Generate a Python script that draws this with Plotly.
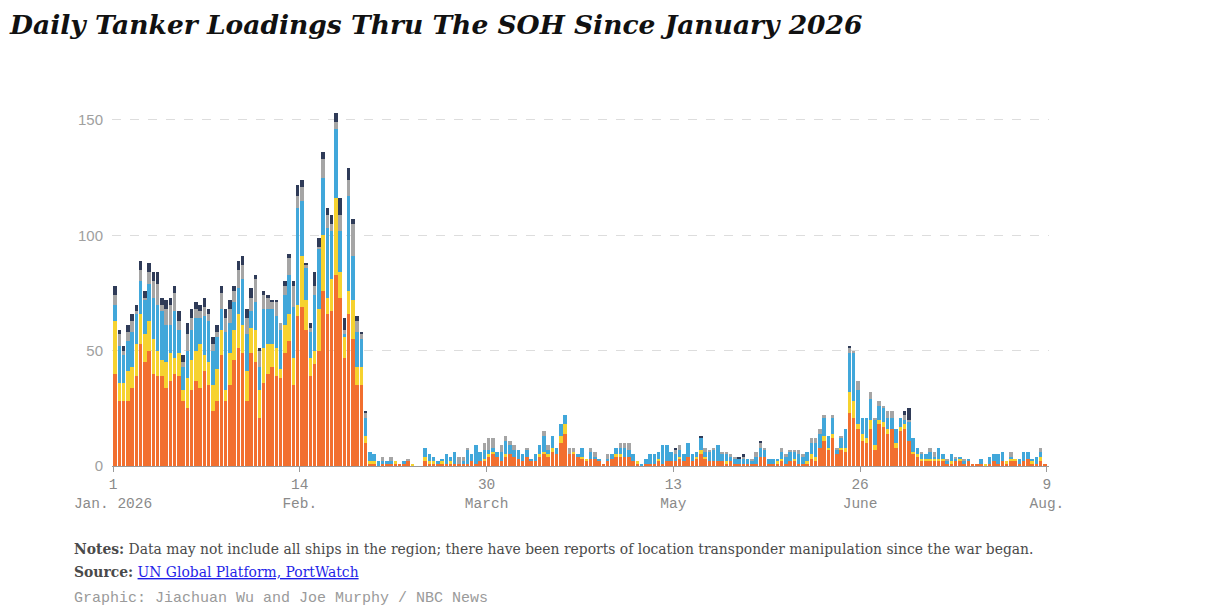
import pandas as pd
import plotly.graph_objects as go

# daily tanker loadings, 1 Jan 2026 .. 8 Aug 2026, stacked by category
days = pd.date_range("2026-01-01", periods=220, freq="D")

orange = [
    40, 28, 28, 28, 34, 39, 53, 45, 50, 40,
    39, 39, 34, 37, 40, 39, 28, 25, 33, 37,
    34, 41, 35, 24, 28, 48, 28, 35, 46, 51,
    49, 28, 49, 45, 21, 36, 40, 43, 39, 38,
    49, 54, 35, 65, 69, 59, 39, 44, 50, 76,
    66, 67, 83, 73, 47, 66, 55, 35, 35, 10,
    1, 1, 0, 1, 1, 1, 1, 1, 1, 2,
    0, 0, 0, 2, 1, 1, 1, 1, 1, 1,
    1, 1, 1, 1, 2, 1, 2, 2, 4, 5,
    4, 2, 4, 5, 4, 3, 2, 4, 2, 2,
    4, 5, 4, 6, 5, 10, 14, 5, 5, 4,
    3, 2, 3, 3, 2, 1, 2, 3, 4, 4,
    4, 4, 2, 1, 0, 1, 1, 1, 2, 1,
    2, 2, 2, 3, 2, 4, 2, 3, 5, 3,
    2, 2, 2, 2, 1, 2, 1, 1, 1, 1,
    1, 1, 4, 4, 1, 1, 1, 2, 1, 2,
    2, 1, 1, 1, 3, 2, 8, 11, 7, 12,
    5, 7, 6, 23, 21, 16, 11, 10, 16, 7,
    18, 17, 14, 16, 8, 15, 16, 11, 5, 4,
    2, 2, 2, 2, 2, 2, 1, 1, 2, 2,
    1, 2, 1, 1, 1, 0, 1, 2, 1, 2,
    1, 2, 2, 1, 2, 3, 1, 1, 2, 1,
]
yellow = [
    23, 8, 8, 13, 9, 14, 13, 12, 13, 15,
    11, 7, 11, 12, 7, 10, 5, 13, 13, 13,
    19, 7, 10, 11, 14, 11, 5, 14, 13, 15,
    12, 13, 11, 14, 12, 15, 13, 10, 12, 4,
    12, 12, 12, 5, 22, 13, 8, 6, 18, 24,
    7, 14, 33, 11, 9, 10, 17, 8, 8, 3,
    1, 1, 0, 0, 0, 0, 1, 0, 0, 0,
    1, 0, 0, 2, 1, 1, 0, 1, 0, 1,
    0, 0, 0, 0, 0, 0, 0, 1, 1, 1,
    0, 0, 1, 0, 0, 0, 0, 0, 0, 0,
    1, 1, 1, 2, 0, 3, 4, 0, 1, 0,
    1, 1, 0, 0, 0, 0, 0, 0, 1, 1,
    0, 0, 0, 1, 0, 0, 0, 0, 1, 0,
    0, 0, 0, 1, 0, 0, 0, 1, 2, 1,
    0, 0, 0, 0, 1, 0, 0, 0, 0, 0,
    0, 0, 0, 0, 0, 0, 1, 1, 0, 0,
    1, 0, 0, 1, 2, 2, 0, 2, 1, 2,
    0, 1, 2, 9, 7, 2, 3, 2, 4, 2,
    2, 2, 2, 0, 2, 2, 2, 0, 1, 1,
    1, 1, 1, 1, 1, 1, 0, 1, 0, 1,
    0, 0, 0, 0, 0, 1, 0, 0, 0, 0,
    1, 1, 1, 0, 0, 0, 1, 0, 2, 0,
]
blue = [
    7, 16, 12, 13, 15, 13, 14, 15, 16, 18,
    20, 21, 16, 12, 20, 10, 10, 12, 13, 14,
    11, 17, 18, 15, 14, 9, 25, 13, 12, 11,
    20, 16, 7, 12, 10, 17, 15, 15, 14, 17,
    13, 17, 22, 42, 24, 14, 11, 24, 26, 25,
    30, 21, 30, 18, 1, 41, 19, 15, 12, 8,
    4, 3, 2, 1, 1, 1, 0, 0, 1, 0,
    0, 0, 0, 4, 3, 2, 1, 1, 4, 2,
    5, 0, 1, 6, 3, 8, 4, 4, 2, 2,
    2, 4, 6, 4, 3, 4, 3, 3, 1, 3,
    4, 7, 2, 5, 3, 5, 4, 0, 0, 1,
    4, 0, 3, 1, 1, 0, 1, 2, 3, 3,
    4, 3, 3, 0, 1, 2, 4, 4, 3, 8,
    7, 4, 3, 3, 3, 6, 3, 2, 5, 2,
    4, 5, 7, 3, 3, 2, 2, 2, 2, 2,
    1, 3, 4, 3, 2, 2, 1, 3, 3, 4,
    3, 4, 3, 4, 5, 6, 6, 8, 5, 7,
    2, 4, 8, 17, 21, 15, 7, 9, 9, 11,
    6, 6, 5, 5, 6, 4, 2, 8, 6, 3,
    2, 2, 3, 1, 5, 2, 1, 3, 1, 1,
    1, 1, 0, 0, 2, 0, 3, 3, 4, 4,
    0, 1, 0, 2, 4, 3, 1, 3, 2, 0,
]
gray = [
    4, 5, 2, 4, 5, 1, 5, 1, 5, 7,
    9, 3, 7, 9, 8, 4, 2, 7, 5, 4,
    3, 4, 3, 3, 2, 7, 6, 6, 5, 8,
    6, 7, 6, 10, 7, 6, 5, 3, 6, 3,
    4, 7, 9, 5, 6, 1, 2, 4, 1, 8,
    6, 3, 3, 7, 2, 7, 14, 5, 2, 2,
    0, 0, 0, 2, 0, 2, 0, 0, 0, 1,
    0, 0, 0, 0, 0, 0, 0, 0, 0, 0,
    0, 3, 2, 1, 0, 0, 0, 3, 5, 4,
    0, 3, 2, 2, 2, 0, 0, 1, 0, 0,
    0, 2, 2, 0, 0, 0, 0, 3, 2, 0,
    0, 0, 2, 2, 0, 0, 2, 0, 0, 2,
    2, 3, 0, 0, 0, 0, 0, 0, 0, 0,
    0, 0, 2, 2, 0, 0, 0, 0, 0, 2,
    1, 1, 0, 1, 1, 1, 1, 0, 1, 0,
    1, 2, 2, 1, 0, 0, 0, 2, 1, 1,
    1, 2, 1, 0, 2, 2, 2, 1, 0, 1,
    1, 1, 0, 2, 1, 4, 0, 0, 3, 1,
    2, 1, 3, 3, 0, 0, 2, 1, 0, 0,
    1, 0, 2, 2, 0, 0, 1, 0, 1, 0,
    1, 0, 0, 0, 0, 0, 0, 0, 0, 0,
    0, 2, 0, 0, 0, 0, 0, 0, 2, 0,
]
navy = [
    4, 2, 2, 3, 3, 3, 4, 3, 4, 4,
    5, 3, 4, 3, 3, 4, 3, 5, 4, 3,
    3, 4, 2, 3, 3, 3, 4, 4, 2, 4,
    4, 4, 4, 2, 1, 2, 1, 1, 1, 0,
    2, 2, 2, 5, 3, 1, 2, 6, 4, 3,
    3, 4, 4, 7, 5, 5, 2, 2, 1, 1,
    0, 0, 0, 0, 0, 0, 0, 0, 0, 0,
    0, 0, 0, 0, 0, 0, 0, 0, 0, 0,
    0, 0, 0, 0, 0, 0, 0, 0, 0, 0,
    0, 0, 0, 0, 0, 0, 0, 0, 0, 0,
    0, 0, 0, 0, 0, 0, 0, 0, 0, 0,
    0, 0, 0, 0, 0, 0, 0, 0, 0, 0,
    0, 0, 0, 0, 0, 0, 0, 0, 0, 0,
    0, 0, 1, 0, 0, 0, 0, 0, 1, 0,
    0, 0, 0, 0, 0, 0, 0, 1, 1, 0,
    0, 0, 1, 0, 0, 0, 0, 0, 0, 0,
    0, 0, 0, 0, 0, 0, 0, 0, 0, 0,
    0, 0, 0, 1, 0, 0, 0, 0, 0, 0,
    0, 0, 0, 0, 0, 0, 2, 5, 0, 0,
    0, 0, 0, 0, 0, 0, 0, 0, 0, 0,
    0, 0, 0, 0, 0, 0, 0, 0, 0, 0,
    0, 0, 0, 0, 0, 0, 0, 0, 0, 0,
]

tick_dates = ["2026-01-01", "2026-02-14", "2026-03-30", "2026-05-13", "2026-06-26", "2026-08-09"]
tick_text = ["1<br>Jan. 2026", "14<br>Feb.", "30<br>March", "13<br>May", "26<br>June", "9<br>Aug."]

series = [
    ("Category 1", orange, "#f26f2f"),
    ("Category 2", yellow, "#f6d22f"),
    ("Category 3", blue, "#41a7da"),
    ("Category 4", gray, "#a5a5a5"),
    ("Category 5", navy, "#2f3b58"),
]

# bars sit between the day tick and the next one
x_mid = days + pd.Timedelta(hours=12)

fig = go.Figure()
for name, vals, col in series:
    fig.add_trace(go.Bar(x=x_mid, y=vals, name=name, marker_color=col, marker_line_width=0))

# the page body adds an 8px margin, so the figure is 16px smaller than the window
W, H = 1204, 598
fig.update_layout(
    barmode="stack",
    bargap=0.18,
    showlegend=False,
    width=W,
    height=H,
    margin=dict(l=104, r=163, t=102, b=140),
    plot_bgcolor="white",
    paper_bgcolor="white",
    title=dict(
        text="Daily Tanker Loadings Thru The SOH Since January 2026",
        x=2 / W, xanchor="left", y=1 - 17 / H, yanchor="middle",
        font=dict(family="DejaVu Serif", size=26.5, color="#111", weight="bold", style="italic"),
    ),
)
fig.update_xaxes(
    type="date",
    range=["2025-12-31 18:00", "2026-08-09 12:00"],
    tickvals=tick_dates, ticktext=tick_text,
    showgrid=False, showline=True, linecolor="#9a9a9a", linewidth=1,
    ticks="outside", ticklen=5, tickcolor="#9a9a9a",
    tickfont=dict(family="Liberation Mono", size=14.5, color="#8a8a8a"),
)
fig.update_yaxes(
    range=[0, 154.3],
    tickvals=[0, 50, 100, 150],
    showgrid=True, gridcolor="#dddddd", griddash="dash", zeroline=False,
    ticklabelstandoff=8,
    tickfont=dict(family="Liberation Sans", size=15, color="#a0a0a0"),
)

ph = 598 - 102 - 140  # plot height in px
fig.add_annotation(
    xref="paper", yref="paper", x=-40 / 937, y=(458 - 541) / ph, xanchor="left", yanchor="middle",
    showarrow=False, align="left",
    text="<b>Notes:</b> Data may not include all ships in the region; there have been reports of "
         "location transponder manipulation since the war began.",
    font=dict(family="DejaVu Serif", size=13.9, color="#4a4a4a"),
)
fig.add_annotation(
    xref="paper", yref="paper", x=-40 / 937, y=(458 - 564) / ph, xanchor="left", yanchor="middle",
    showarrow=False, align="left",
    text="<b>Source:</b> <span style='color:#1f1fe8;text-decoration:underline'>UN Global Platform, PortWatch</span>",
    font=dict(family="DejaVu Serif", size=13.9, color="#4a4a4a"),
)
fig.add_annotation(
    xref="paper", yref="paper", x=-40 / 937, y=(458 - 590) / ph, xanchor="left", yanchor="middle",
    showarrow=False, align="left",
    text="Graphic: Jiachuan Wu and Joe Murphy / NBC News",
    font=dict(family="Liberation Mono", size=15, color="#9a9a9a"),
)

fig.write_html("out.html")
